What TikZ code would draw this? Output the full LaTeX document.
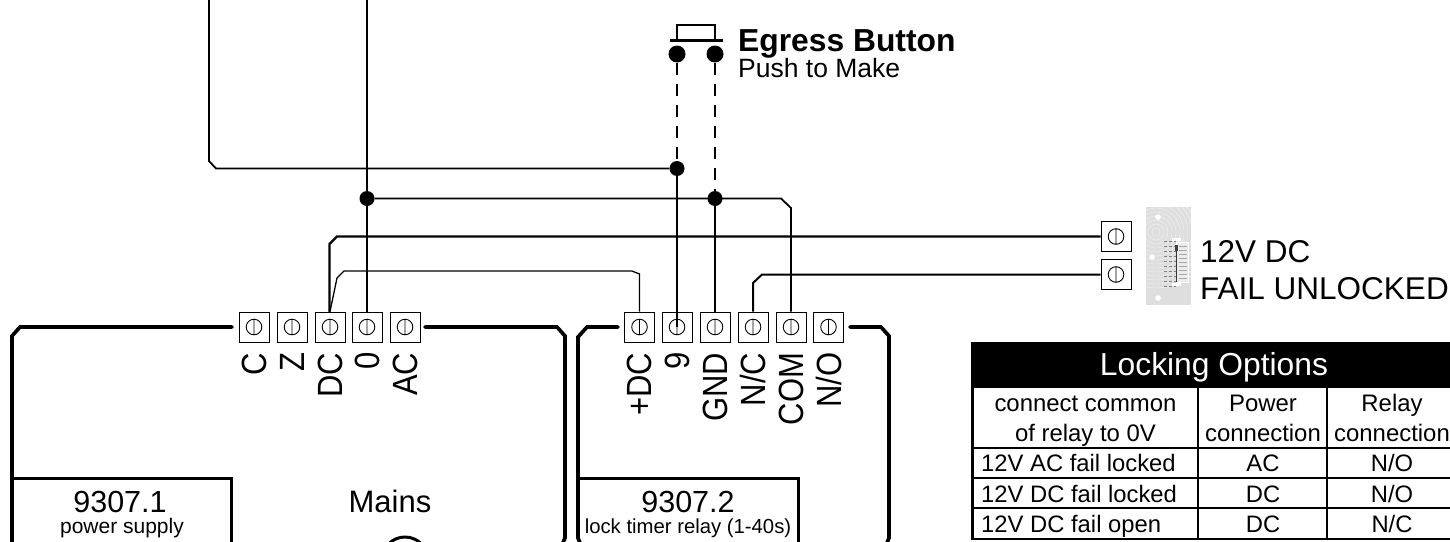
\documentclass[tikz,border=0pt]{standalone}
\usepackage{fontspec}
\setmainfont{Liberation Sans}
\usetikzlibrary{calc}
\newcommand\sz[1]{\fontsize{#1}{#1}\selectfont}
\tikzset{
  term/.style={draw,line width=1,fill=white,inner sep=0,minimum size=30,
    path picture={\draw[line width=.9] (path picture bounding box.center) circle (7.8)
      ++(0,-7.8)--++(0,15.6);}},
  termlabel/.style={rotate=90,yscale=1.13,anchor=east,inner sep=0,font=\sz{31}},
  dotnode/.style={circle,fill=black,inner sep=0,minimum size=#1},
  wire/.style={black,line width=#1,line join=miter},
  case/.style={black,line width=3.7,line cap=round},
  txt/.style={inner sep=0,anchor=base,font=\sz{#1}},
  ltxt/.style={inner sep=0,anchor=base west,font=\sz{#1}},
  tline/.style={black,line width=2.5}
}

\begin{document}
\begin{tikzpicture}[x=1pt,y=-1pt]
\clip (0,0) rectangle (1450,541);
\fill[white] (0,0) rectangle (1450,541);

% enclosures
\draw[case] (232,327)--(20,327)--(12,336)--(12,545);
\draw[case] (425,327)--(557,327)--(565,336)--(565,538)--(562,545);
\draw[case] (618,327)--(587,327)--(578,337)--(578,538)--(581,545);
\draw[case] (850,327)--(881,327)--(889,336)--(889,538)--(886,545);
\draw[black,line width=3] (12,478)--(231,478)--(231,545);
\draw[black,line width=3] (578,478)--(798,478)--(798,545);
\draw[black,line width=3] (405,560) circle (23);

% terminals
\node[term] (tC) at (254,327) {};
\node[term] (tZ) at (292,327) {};
\node[term] (tDC) at (330,327) {};
\node[term] (tZero) at (367,327) {};
\node[term] (tAC) at (405,327) {};
\node[term] (tPlus) at (639.5,327) {};
\node[term] (tNine) at (677,327) {};
\node[term] (tGnd) at (715,327) {};
\node[term] (tNC) at (753,327) {};
\node[term] (tCom) at (791,327) {};
\node[term] (tNO) at (828.5,327) {};
\node[term] (tLockA) at (1116,236.5) {};
\node[term] (tLockB) at (1116,274.5) {};

\node[termlabel] (lC) at ([yshift=-10]tC.south) {C};
\node[termlabel] (lZ) at ([yshift=-10]tZ.south) {Z};
\node[termlabel] (lDC) at ([yshift=-10]tDC.south) {DC};
\node[termlabel] (lZero) at ([yshift=-10]tZero.south) {0};
\node[termlabel] (lAC) at ([yshift=-10]tAC.south) {AC};
\node[termlabel] (lPlus) at ([yshift=-10]tPlus.south) {+DC};
\node[termlabel] (lNine) at ([yshift=-10]tNine.south) {9};
\node[termlabel] (lGnd) at ([yshift=-10]tGnd.south) {GND};
\node[termlabel] (lNC) at ([yshift=-10]tNC.south) {N/C};
\node[termlabel] (lCom) at ([yshift=-10]tCom.south) {COM};
\node[termlabel] (lNO) at ([yshift=-10]tNO.south) {N/O};

% button
\coordinate (topA) at (209,-2);
\coordinate (topB) at (367,-2);
\node[dotnode=15] (dotZero) at (367,198.5) {};
\node[dotnode=15] (dotNine) at (677,168.5) {};
\node[dotnode=15] (dotGnd) at (715,198.5) {};
\node[dotnode=17] (btnA) at (677,54) {};
\node[dotnode=17] (btnB) at (715,54) {};
\coordinate (btnL) at (670,40);
\coordinate (btnR) at (723,40);

\draw[wire=3] (btnL)--(btnR);
\draw[wire=1.3] (677,40)--(677,25)--(715,25)--(715,40);
\draw[wire=1.5,dash pattern=on 12 off 9] (btnA)--(dotNine);
\draw[wire=1.5,dash pattern=on 12 off 9] (btnB)--(dotGnd);

% wires
\draw[wire=1.8] (topA)--(209,161)--(216,168.5)--(dotNine);
\draw[wire=1.8] (topB)--(tZero.north);
\draw[wire=1.8] (dotZero)--(781,198.5)--(791,208)--(tCom.north);
\draw[wire=1.8] (dotNine)--(tNine.center);
\draw[wire=1.8] (dotGnd)--(tGnd.north);
\draw[wire=2.4] (tLockA.west)--(337,236.5)--(329.5,244)--(329.5,312);
\draw[wire=1.3] (tDC.north)--(337,278)--(344,271)--(632,271)--(639.5,274)--(tPlus.north);
\draw[wire=2] (tLockB.west)--(762,274.5)--(753,283)--(tNC.north);

% lock
\begin{scope}
\clip (1146,207) rectangle (1191,305);
\fill[black!13] (1146,207) rectangle (1191,305);
\foreach \r in {4,8,12,16,20,24,28,32,36,40,44,48,52,56}
  \draw[white,opacity=.6,line width=.4] (1156,232) circle (\r);
\foreach \y in {241,246,251,256,261,266,271,276,281,286}
  \draw[black!50,line width=.4,dash pattern=on 3 off 2] (1164,\y)--(1176,\y);
\fill[white] (1158,217) circle (2.8);
\fill[white] (1152,257) circle (2.8);
\fill[white] (1158,298) circle (2.8);
\fill[black!8,draw=white,line width=.8] (1176,242) rectangle (1188,282);
\foreach \y in {246,250,254,258,262,266,270,274,278}
  \draw[black!35,line width=.4] (1179,\y)--(1187,\y);
\draw[black!80,line width=.7] (1176,245)--(1176,282);
\fill[black!75] (1175,245) rectangle (1177.5,251);
\fill[white] (1172,238) rectangle (1181,241);
\fill[white] (1172,283) rectangle (1181,286);
\end{scope}

\node[ltxt=31.5] (lockA) at (1200,262) {12V DC};
\node[ltxt=31.5] (lockB) at (1200,299) {FAIL UNLOCKED};
\node[ltxt=32,font=\sz{31.8}\bfseries] (btnTitle) at (738,51) {Egress Button};
\node[ltxt=26.5] (btnSub) at (738,77) {Push to Make};

\node[txt=30.5] (psuNum) at (120,512) {9307.1};
\node[txt=21] (psuName) at (122,533) {power supply};
\node[txt=31] (mains) at (390,512) {Mains};
\node[txt=30.5] (relNum) at (688,512) {9307.2};
\node[txt=20.3] (relName) at (688,533) {lock timer relay (1-40s)};

% table
\fill[black] (971,341.5) rectangle (1452,388);
\draw[tline] (972.5,388)--(972.5,539)--(1452,539);
\draw[tline] (1198,388)--(1198,539);
\draw[tline] (1327,388)--(1327,539);
\draw[tline] (972,448)--(1452,448);
\draw[tline] (972,478)--(1452,478);
\draw[tline] (972,508)--(1452,508);

\node[txt=31.8,text=white] (tabTitle) at (1214,375) {Locking Options};
\node[txt=23.9] (headA) at (1085.5,411) {connect common};
\node[txt=23.9] (headB) at (1085.5,441) {of relay to 0V};
\node[txt=23.9] (headC) at (1263,411) {Power};
\node[txt=23.9] (headD) at (1263,441) {connection};
\node[txt=23.9] (headE) at (1392,411) {Relay};
\node[txt=23.9] (headF) at (1392,441) {connection};
\node[ltxt=23.8] (rowA) at (981,471) {12V AC fail locked};
\node[ltxt=23.8] (rowB) at (981,502) {12V DC fail locked};
\node[ltxt=23.8] (rowC) at (981,532) {12V DC fail open};
\node[txt=23.8] (powA) at (1263,471) {AC};
\node[txt=23.8] (powB) at (1263,502) {DC};
\node[txt=23.8] (powC) at (1263,532) {DC};
\node[txt=23.8] (relA) at (1392,471) {N/O};
\node[txt=23.8] (relB) at (1392,502) {N/O};
\node[txt=23.8] (relC) at (1392,532) {N/C};

\end{tikzpicture}
\end{document}
